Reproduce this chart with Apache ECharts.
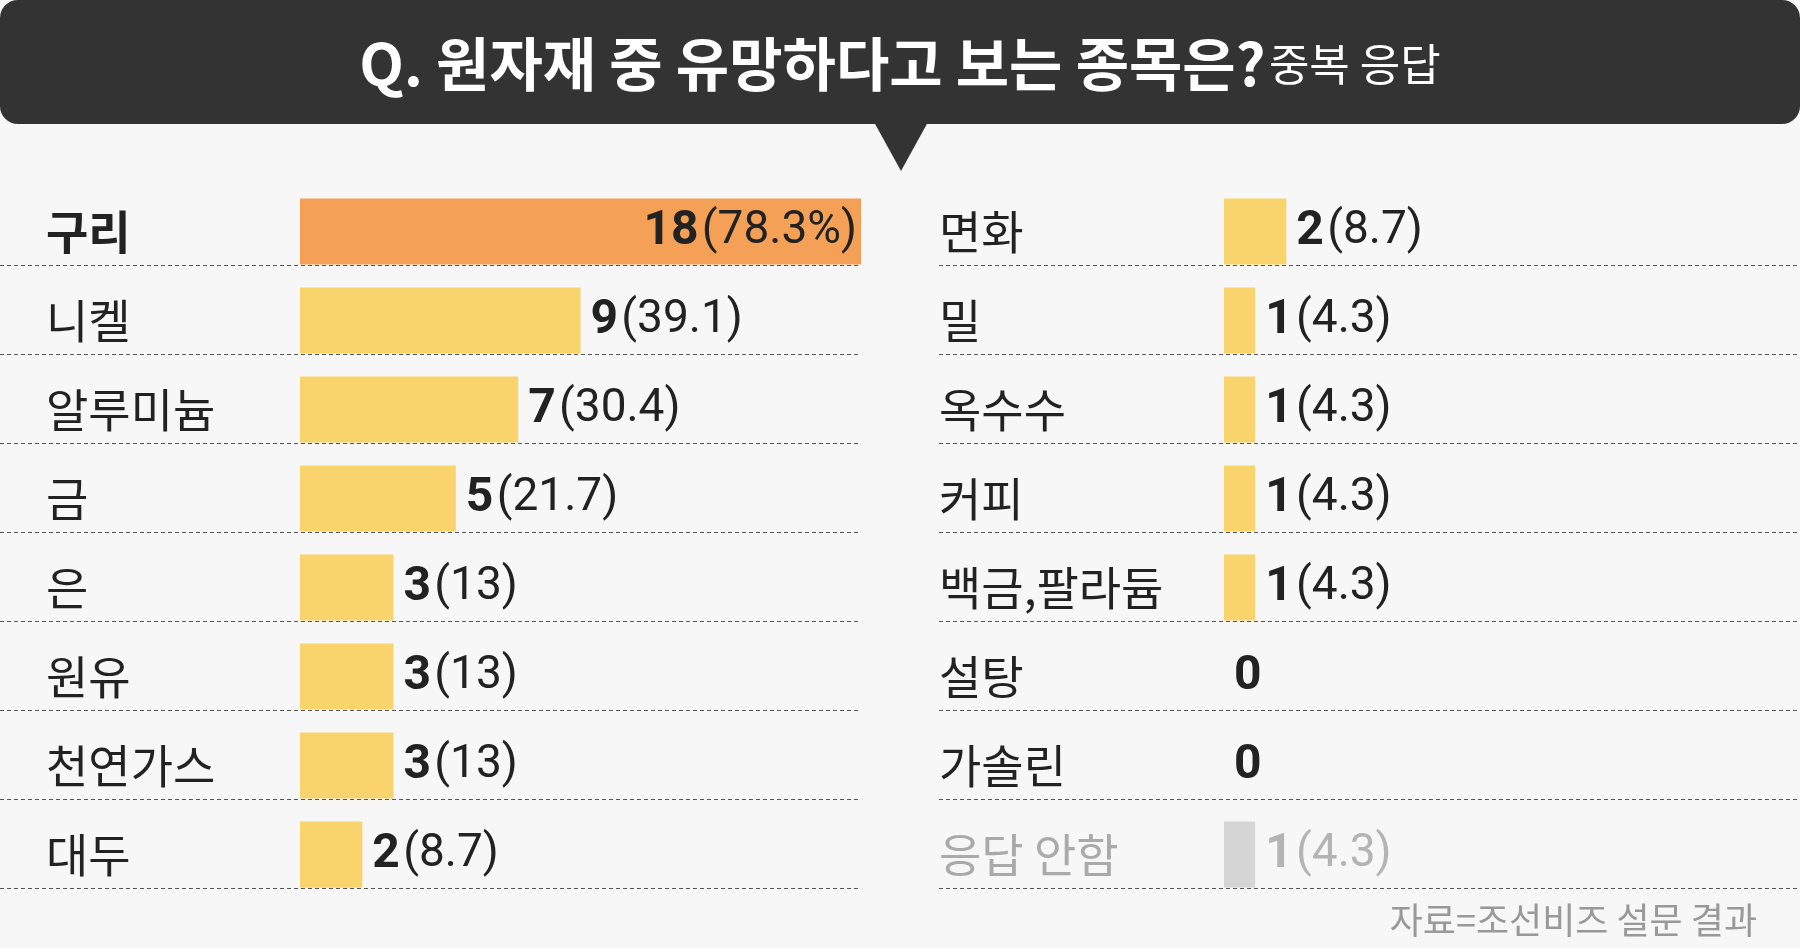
<!DOCTYPE html>
<html><head><meta charset="utf-8">
<script src="https://cdn.jsdelivr.net/npm/echarts@6/dist/echarts.min.js"></script>
<style>html,body{margin:0;padding:0;background:#f7f7f7}#c{width:1800px;height:948px}</style>
</head><body><div id="c"></div>
<script>
const leftCats = ['구리','니켈','알루미늄','금','은','원유','천연가스','대두'];
const leftVals = [18,9,7,5,3,3,3,2];
const leftPcts = ['78.3%','39.1','30.4','21.7','13','13','13','8.7'];
const rightCats = ['면화','밀','옥수수','커피','백금,팔라듐','설탕','가솔린','응답 안함'];
const rightVals = [2,1,1,1,1,0,0,1];
const rightPcts = ['8.7','4.3','4.3','4.3','4.3','','','4.3'];
const titleMain = 'Q. 원자재 중 유망하다고 보는 종목은?';
const titleSub = '중복 응답';
const source = '자료=조선비즈 설문 결과';

const FN = "'Liberation Sans Narrow','Roboto',sans-serif";
const KF = "'Noto Sans CJK KR',sans-serif";
const chart = echarts.init(document.getElementById('c'));
const BAR_H = 66;

function items(vals, pcts, side){
  return vals.map((v,i)=>{
    const orange = side==='L' && i===0;
    const grayItem = side==='R' && i===vals.length-1;
    const color = orange ? '#f4a057' : grayItem ? '#d5d5d5' : '#f9d36b';
    const txt = pcts[i] ? '{b|'+v+'} {n|('+pcts[i]+')}' : '{b|'+v+'}';
    const tc = grayItem ? '#b4b4b4' : '#222';
    return {value:v, itemStyle:{color}, label:{
      show:true, position: orange ? 'insideRight' : 'right', distance: orange?4:10,
      formatter: txt,
      rich:{b:{fontFamily:FN,fontWeight:'bold',fontSize:48,color:tc},
            n:{fontFamily:FN,fontSize:46,color:tc}}
    }};
  });
}
function catAxis(idx, cats, margin){
  return {type:'category', gridIndex:idx, data:cats, inverse:true,
    axisLine:{show:false}, axisTick:{show:false}, splitLine:{show:false},
    axisLabel:{margin, align:'left', fontFamily:KF, fontSize:46, color:'#222',
      formatter:(v,i)=> (idx===0&&i===0)?'{bb|'+v+'}':(idx===1&&i===cats.length-1)?'{g|'+v+'}':v,
      rich:{bb:{fontFamily:KF,fontWeight:'bold',fontSize:46,color:'#222'},
            g:{fontFamily:KF,fontSize:46,color:'#aaa'}}}};
}
const option = {
  backgroundColor:'#f7f7f7',
  animation:false,
  grid:[{left:300,width:561,top:187,height:712},{left:1224,width:561,top:187,height:712}],
  xAxis:[{type:'value',gridIndex:0,min:0,max:18,show:false},{type:'value',gridIndex:1,min:0,max:18,show:false}],
  yAxis:[catAxis(0,leftCats,254),catAxis(1,rightCats,285)],
  series:[
    {type:'bar',xAxisIndex:0,yAxisIndex:0,barWidth:BAR_H,data:items(leftVals,leftPcts,'L')},
    {type:'bar',xAxisIndex:1,yAxisIndex:1,barWidth:BAR_H,data:items(rightVals,rightPcts,'R')}
  ]
};
chart.setOption(option);

const g = [
  {type:'rect',shape:{x:0,y:0,width:1800,height:124,r:18},style:{fill:'#333333'}},
  {type:'polygon',shape:{points:[[874,122],[928,122],[901,171]]},style:{fill:'#333333'}},
  {type:'text',x:900,y:64,style:{text:'{m|'+titleMain+'} {s|'+titleSub+'}',align:'center',verticalAlign:'middle',
    rich:{m:{fontFamily:KF,fontWeight:'bold',fontSize:58,fill:'#fff'},s:{fontFamily:KF,fontSize:44,fill:'#fff'}}}},
  {type:'text',x:1757,y:920,style:{text:source,align:'right',verticalAlign:'middle',fontFamily:KF,fontSize:36,fill:'#999'}}
];
leftCats.forEach((c,i)=>{
  const y = Math.round(chart.convertToPixel({yAxisIndex:0},i) + BAR_H/2)+0.5;
  g.push({type:'line',shape:{x1:0,y1:y,x2:859,y2:y},style:{stroke:'#555',lineWidth:1.2,lineDash:[4,3]}});
  g.push({type:'line',shape:{x1:939,y1:y,x2:1800,y2:y},style:{stroke:'#555',lineWidth:1.2,lineDash:[4,3]}});
});
chart.setOption({graphic:g});
</script></body></html>
